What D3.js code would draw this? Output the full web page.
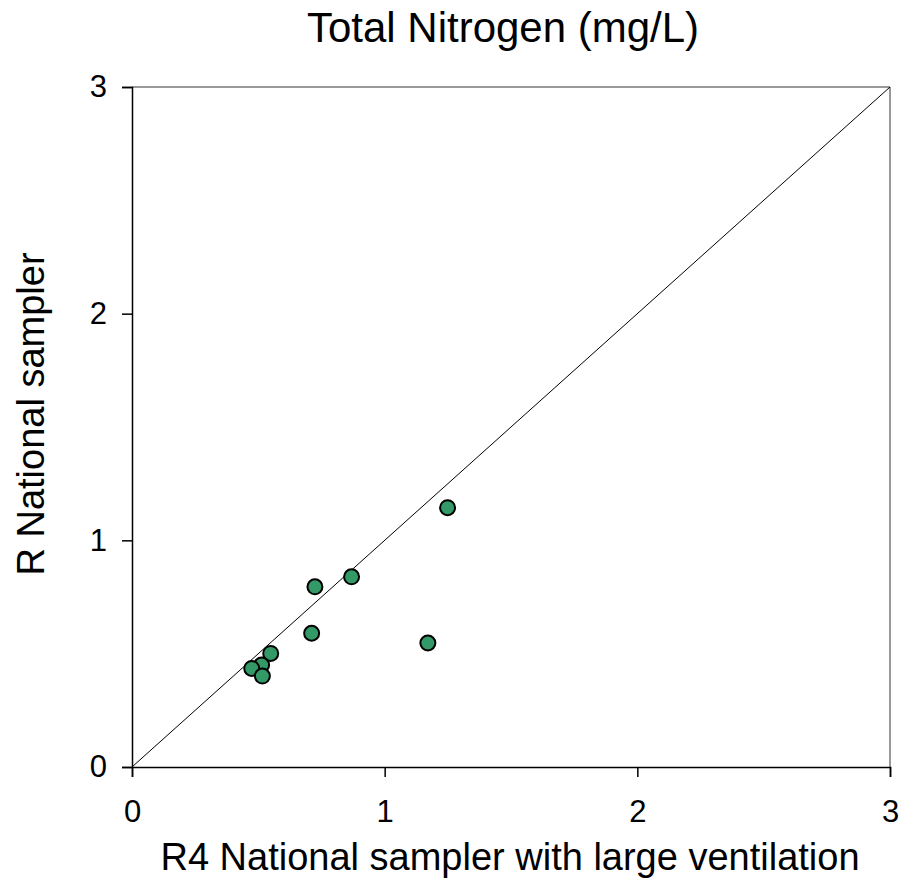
<!DOCTYPE html>
<html><head><meta charset="utf-8">
<script src="https://cdn.jsdelivr.net/npm/d3@7"></script>
<style>body{margin:0;background:#fff}svg{display:block}text{font-family:"Liberation Sans",Arial,sans-serif;fill:#000}</style>
</head><body>
<script>
const title = "Total Nitrogen (mg/L)";
const xLabel = "R4 National sampler with large ventilation";
const yLabel = "R National sampler";
const xTicks = [0, 1, 2, 3];
const yTicks = [0, 1, 2, 3];
const xValues = [0.869, 0.724, 0.711, 0.549, 0.513, 0.474, 0.516, 1.249, 1.171];
const yValues = [0.839, 0.795, 0.590, 0.501, 0.450, 0.435, 0.401, 1.144, 0.547];
const refLine = [[0, 0], [3, 3]];

const W = 899, H = 886;
const m = {left: 132, right: 9, top: 87, bottom: 119};
const svg = d3.select("body").append("svg").attr("width", W).attr("height", H);
const x = d3.scaleLinear().domain([0, 3]).range([m.left, W - m.right]);
const y = d3.scaleLinear().domain([0, 3]).range([H - m.bottom, m.top]);

// gray frame top/right
svg.append("line").attr("x1", x(0)).attr("x2", x(3)).attr("y1", y(3)).attr("y2", y(3)).attr("stroke", "#999").attr("stroke-width", 2);
svg.append("line").attr("x1", x(3)).attr("x2", x(3)).attr("y1", y(3)).attr("y2", y(0)).attr("stroke", "#999").attr("stroke-width", 2);

const xa = svg.append("g").attr("transform", `translate(0,${y(0)})`)
  .call(d3.axisBottom(x).tickValues(xTicks).tickFormat(d3.format("d")).tickSize(10).tickPadding(23));
const ya = svg.append("g").attr("transform", `translate(${x(0)},0)`)
  .call(d3.axisLeft(y).tickValues(yTicks).tickFormat(d3.format("d")).tickSize(10).tickPadding(15));
[xa, ya].forEach(g => {
  g.attr("font-size", 31).attr("font-family", "Liberation Sans, Arial, sans-serif");
  g.select(".domain").attr("stroke", "#000").attr("stroke-width", 1.5);
  g.selectAll(".tick line").attr("stroke", "#000").attr("stroke-width", 1.5);
  g.selectAll(".tick text").attr("fill", "#000");
});

svg.append("line").attr("x1", x(refLine[0][0])).attr("y1", y(refLine[0][1]))
  .attr("x2", x(refLine[1][0])).attr("y2", y(refLine[1][1]))
  .attr("stroke", "#000").attr("stroke-width", 1);

svg.append("g").selectAll("circle").data(xValues.map((v, i) => [v, yValues[i]])).join("circle")
  .attr("cx", d => x(d[0])).attr("cy", d => y(d[1])).attr("r", 7.5)
  .attr("fill", "#339966").attr("stroke", "#000").attr("stroke-width", 2);

svg.append("text").attr("x", 503).attr("y", 42).attr("text-anchor", "middle").attr("font-size", 42).text(title);
svg.append("text").attr("x", 510).attr("y", 870).attr("text-anchor", "middle").attr("font-size", 38).text(xLabel);
svg.append("text").attr("transform", `translate(44,414) rotate(-90)`).attr("text-anchor", "middle").attr("font-size", 38).text(yLabel);
</script>
</body></html>
